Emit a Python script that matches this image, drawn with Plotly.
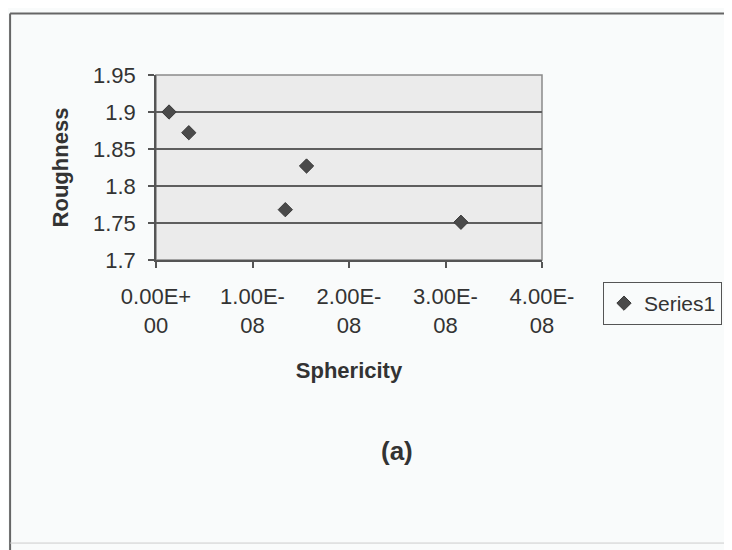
import plotly.graph_objects as go

# Data
sphericity = [1.35e-9, 3.4e-9, 1.34e-8, 1.56e-8, 3.16e-8]
roughness = [1.900, 1.872, 1.768, 1.827, 1.751]
series_name = "Series1"

x_tickvals = [0, 1e-8, 2e-8, 3e-8, 4e-8]
x_ticktext = ["0.00E+<br>00", "1.00E-<br>08", "2.00E-<br>08", "3.00E-<br>08", "4.00E-<br>08"]
y_tickvals = [1.7, 1.75, 1.8, 1.85, 1.9, 1.95]
y_ticktext = ["1.7", "1.75", "1.8", "1.85", "1.9", "1.95"]

FONT = "Liberation Sans, Arial, sans-serif"
TXT = "#333333"
FS = 22

fig = go.Figure()
fig.add_trace(go.Scatter(
    x=sphericity, y=roughness, mode="markers", name=series_name,
    marker=dict(symbol="diamond", size=11, color="#4a4a4a",
                line=dict(color="#3a3a3a", width=1)),
    showlegend=True,
))

fig.update_layout(
    width=724, height=542,
    margin=dict(l=148, r=190, t=67, b=290, autoexpand=False),
    paper_bgcolor="#f9fbfb",
    plot_bgcolor="#ebebeb",
    font=dict(family=FONT, size=FS, color=TXT),
    xaxis=dict(
        range=[0, 4e-8], tickmode="array", tickvals=x_tickvals, ticktext=x_ticktext,
        showgrid=False, zeroline=False,
        showline=True, linecolor="#555555", linewidth=1.5, mirror=False,
        ticks="outside", ticklen=6, tickcolor="#555555", tickwidth=1.5,
        tickfont=dict(size=FS, color=TXT), ticklabelstandoff=10,
        title=dict(text="<b>Sphericity</b>", font=dict(size=FS, color=TXT), standoff=26),
    ),
    yaxis=dict(
        range=[1.7, 1.95], tickmode="array", tickvals=y_tickvals, ticktext=y_ticktext,
        showgrid=True, gridcolor="#5e5e5e", gridwidth=2, zeroline=False,
        showline=True, linecolor="#555555", linewidth=1.5, mirror=False,
        ticks="outside", ticklen=6, tickcolor="#555555", tickwidth=1.5,
        tickfont=dict(size=FS, color=TXT), ticklabelstandoff=8,
        title=dict(text="<b>Roughness</b>", font=dict(size=FS, color=TXT), standoff=18),
    ),
    legend=dict(
        x=1.158, y=-0.235, xanchor="left", yanchor="middle",
        bgcolor="#f9fbfb", bordercolor="#555555", borderwidth=1,
        font=dict(size=21, color=TXT), itemwidth=30,
        tracegroupgap=0,
    ),
    shapes=[
        dict(type="rect", xref="paper", yref="paper", x0=0, x1=1, y0=0, y1=1,
             line=dict(color="#8a8a8a", width=1.5), layer="below"),
        dict(type="line", xref="paper", yref="paper", x0=-0.378, x1=1.6, y0=1.332, y1=1.332,
             line=dict(color="#666666", width=2)),
        dict(type="line", xref="paper", yref="paper", x0=-0.378, x1=-0.378, y0=1.332, y1=-1.6,
             line=dict(color="#666666", width=2)),
        dict(type="line", xref="paper", yref="paper", x0=-0.378, x1=1.6, y0=-1.53, y1=-1.53,
             line=dict(color="#cccccc", width=1)),
    ],
    annotations=[
        dict(text="<b>(a)</b>", xref="paper", yref="paper", x=(397 - 156) / 386, y=(260 - 451) / 185,
             showarrow=False, font=dict(size=26, color=TXT), xanchor="center", yanchor="middle"),
    ],
)

fig.write_html("out.html")
